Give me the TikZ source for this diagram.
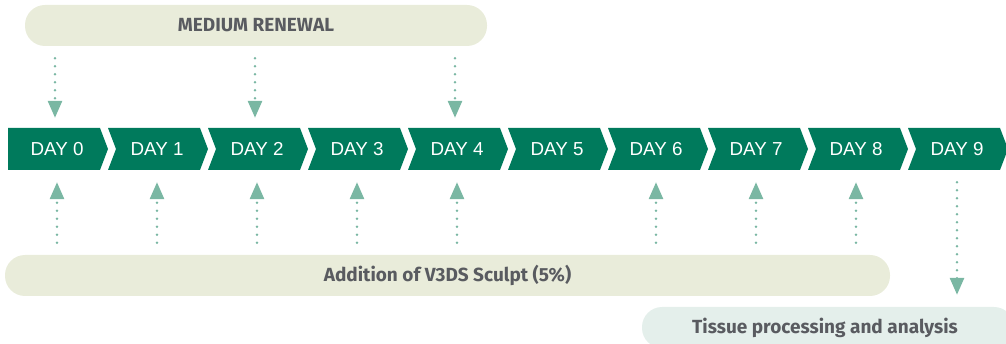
\documentclass[tikz,border=0pt]{standalone}
\usepackage{fontspec}
\setmainfont{Liberation Sans}
\newfontfamily\pillfont{Fira Sans}
\usetikzlibrary{arrows.meta}

\definecolor{daygreen}{HTML}{007A5C}
\definecolor{arrowgreen}{HTML}{7AB7A3}
\definecolor{pillbeige}{HTML}{E9ECDA}
\definecolor{pillmint}{HTML}{E4EFEB}
\definecolor{pilltext}{HTML}{595B60}

\tikzset{
  daylabel/.style={minimum width=92pt, minimum height=42pt, inner sep=0pt,
    text=white, font=\fontsize{18.8}{20}\selectfont},
  pill/.style={rounded corners=20pt, minimum height=41pt, inner sep=0pt,
    text=pilltext, font=\pillfont\bfseries\fontsize{19}{20}\selectfont},
  dotarrow/.style={arrowgreen, line width=2.8pt, line cap=round,
    dash pattern=on 0pt off 8pt, -{Triangle[width=14pt,length=17pt]}}
}

\begin{document}
\begin{tikzpicture}[x=1pt,y=-1pt]
\useasboundingbox (0,0) rectangle (1006,344);

%Jours
\fill[daygreen] (8,128) -- (100,128) -- (108,149) -- (100,170) -- (8,170) -- cycle;
\fill[daygreen] (108,128) -- (200,128) -- (208,149) -- (200,170) -- (108,170) -- (116,149) -- cycle;
\fill[daygreen] (208,128) -- (300,128) -- (308,149) -- (300,170) -- (208,170) -- (216,149) -- cycle;
\fill[daygreen] (308,128) -- (400,128) -- (408,149) -- (400,170) -- (308,170) -- (316,149) -- cycle;
\fill[daygreen] (408,128) -- (500,128) -- (508,149) -- (500,170) -- (408,170) -- (416,149) -- cycle;
\fill[daygreen] (508,128) -- (600,128) -- (608,149) -- (600,170) -- (508,170) -- (516,149) -- cycle;
\fill[daygreen] (608,128) -- (700,128) -- (708,149) -- (700,170) -- (608,170) -- (616,149) -- cycle;
\fill[daygreen] (708,128) -- (800,128) -- (808,149) -- (800,170) -- (708,170) -- (716,149) -- cycle;
\fill[daygreen] (808,128) -- (900,128) -- (908,149) -- (900,170) -- (808,170) -- (816,149) -- cycle;
\fill[daygreen] (908,128) -- (1000,128) -- (1008,149) -- (1000,170) -- (908,170) -- (916,149) -- cycle;

\node[daylabel] (d0) at (57,149) {DAY 0};
\node[daylabel] (d1) at (157,149) {DAY 1};
\node[daylabel] (d2) at (257,149) {DAY 2};
\node[daylabel] (d3) at (357,149) {DAY 3};
\node[daylabel] (d4) at (457,149) {DAY 4};
\node[daylabel] (d5) at (557,149) {DAY 5};
\node[daylabel] (d6) at (656,149) {DAY 6};
\node[daylabel] (d7) at (756,149) {DAY 7};
\node[daylabel] (d8) at (856,149) {DAY 8};
\node[daylabel] (d9) at (957,149) {DAY 9};

%Etapes
\node[pill, fill=pillbeige, minimum width=462pt] (renewal) at (256,25.5) {MEDIUM RENEWAL};
\node[pill, fill=pillbeige, minimum width=885pt] (sculpt) at (447.5,275.5) {Addition of V3DS Sculpt (5\%)};
\node[pill, fill=pillmint, minimum width=372pt] (tissue) at (828,327.5) {\hspace*{-6pt}Tissue processing and analysis};

%Fleches
\draw[dotarrow] ([xshift=-2pt,yshift=-12pt]renewal.south -| d0.north) -- ([xshift=-2pt,yshift=10pt]d0.north);
\draw[dotarrow] ([xshift=-2pt,yshift=-12pt]renewal.south -| d2.north) -- ([xshift=-2pt,yshift=10pt]d2.north);
\draw[dotarrow] ([xshift=-2pt,yshift=-12pt]renewal.south -| d4.north) -- ([xshift=-2pt,yshift=10pt]d4.north);

\draw[dotarrow] ([yshift=12pt]sculpt.north -| d0.south) -- ([yshift=-12pt]d0.south);
\draw[dotarrow] ([yshift=12pt]sculpt.north -| d1.south) -- ([yshift=-12pt]d1.south);
\draw[dotarrow] ([yshift=12pt]sculpt.north -| d2.south) -- ([yshift=-12pt]d2.south);
\draw[dotarrow] ([yshift=12pt]sculpt.north -| d3.south) -- ([yshift=-12pt]d3.south);
\draw[dotarrow] ([yshift=12pt]sculpt.north -| d4.south) -- ([yshift=-12pt]d4.south);
\draw[dotarrow] ([yshift=12pt]sculpt.north -| d6.south) -- ([yshift=-12pt]d6.south);
\draw[dotarrow] ([yshift=12pt]sculpt.north -| d7.south) -- ([yshift=-12pt]d7.south);
\draw[dotarrow] ([yshift=12pt]sculpt.north -| d8.south) -- ([yshift=-12pt]d8.south);

\draw[dotarrow] ([yshift=-12pt]d9.south) -- ([yshift=12pt]tissue.north -| d9.south);

\end{tikzpicture}
\end{document}
